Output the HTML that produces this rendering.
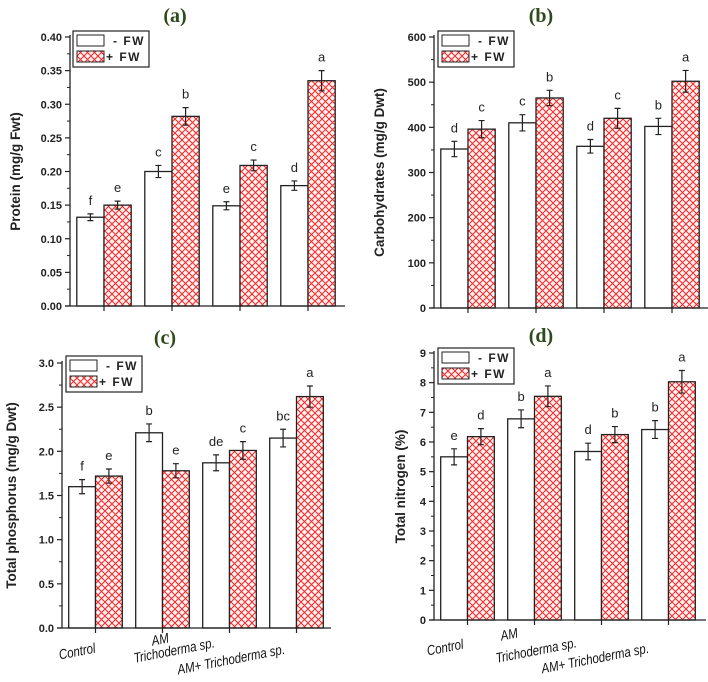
<!DOCTYPE html>
<html><head><meta charset="utf-8">
<style>
body{margin:0;background:#fff;}
svg{display:block;font-family:"Liberation Sans",Arial,sans-serif;}
.t{font-family:"Liberation Serif",serif;font-weight:bold;font-size:20px;fill:#2d4a1a;}
.tick{font-size:11px;font-weight:bold;fill:#222;}
.yl{font-size:13.5px;font-weight:bold;fill:#222;}
.let{font-size:13px;fill:#222;}
.leg{font-size:12px;font-weight:bold;fill:#222;letter-spacing:1.5px;}
.xl{font-size:14px;font-style:italic;fill:#111;}
</style></head><body>
<svg id="c" width="708" height="682" viewBox="0 0 708 682" xmlns="http://www.w3.org/2000/svg">
<defs>
<pattern id="hatch" width="7" height="7" patternUnits="userSpaceOnUse">
<rect width="7" height="7" fill="#fff4f4"/>
<path d="M0,0L7,7M7,0L0,7" stroke="#f22" stroke-width="1"/>
</pattern>
</defs>
</svg>
<script>
const categories=["Control","AM","Trichoderma sp.","AM+ Trichoderma sp."];
const protMinus=[0.132,0.200,0.149,0.179];
const protPlus=[0.150,0.282,0.209,0.335];
const protErrMinus=[0.005,0.009,0.006,0.007];
const protErrPlus=[0.006,0.013,0.008,0.015];
const protLetMinus=["f","c","e","d"];
const protLetPlus=["e","b","c","a"];
const protTicks=["0.00","0.05","0.10","0.15","0.20","0.25","0.30","0.35","0.40"];
const carbMinus=[352,410,358,402];
const carbPlus=[396,465,420,502];
const carbErrMinus=[17,18,15,18];
const carbErrPlus=[19,17,22,24];
const carbLetMinus=["d","c","d","b"];
const carbLetPlus=["c","b","c","a"];
const carbTicks=["0","100","200","300","400","500","600"];
const phosMinus=[1.60,2.21,1.87,2.15];
const phosPlus=[1.72,1.78,2.01,2.62];
const phosErrMinus=[0.08,0.10,0.09,0.10];
const phosErrPlus=[0.08,0.08,0.10,0.12];
const phosLetMinus=["f","b","de","bc"];
const phosLetPlus=["e","e","c","a"];
const phosTicks=["0.0","0.5","1.0","1.5","2.0","2.5","3.0"];
const nitMinus=[5.5,6.78,5.68,6.42];
const nitPlus=[6.18,7.54,6.25,8.03];
const nitErrMinus=[0.27,0.30,0.28,0.30];
const nitErrPlus=[0.27,0.35,0.27,0.38];
const nitLetMinus=["e","b","d","b"];
const nitLetPlus=["d","a","b","a"];
const nitTicks=["0","1","2","3","4","5","6","7","8","9"];

const svg=document.getElementById('c');
const NS="http://www.w3.org/2000/svg";
function mk(tag,attrs,parent,text){const e=document.createElementNS(NS,tag);for(const k in attrs)e.setAttribute(k,attrs[k]);if(text!==undefined)e.textContent=text;(parent||svg).appendChild(e);return e;}

function panel(p){
  const g=mk('g',{});
  
  
  const ymax=parseFloat(p.ticks[p.ticks.length-1]);
  const ys=v=>p.y0-(v/ymax)*(p.y0-p.ytop);
  const xc=i=>p.ax+p.step/2+i*p.step;
  const bw=p.step*0.4;
  const t=mk('text',{x:p.tx,y:p.ty,'text-anchor':'middle',class:'t'},g,p.title);
  
  
  for(let i=0;i<categories.length;i++){
    const c=xc(i);
    [[p.minus,p.em,p.lm,c-bw,'#fff'],[p.plus,p.ep,p.lp,c,'url(#hatch)']].forEach((s,k)=>{
      const v=s[0][i],x=s[3];
      const r=mk('rect',{x:x,y:ys(v),width:bw,height:p.y0-ys(v),fill:s[4],stroke:'#222','stroke-width':1.3},g);
      
      
      const mx=x+bw/2,e=s[1][i];
      const eb=mk('path',{d:`M${mx},${ys(v+e)}V${ys(v-e)}M${mx-3},${ys(v+e)}H${mx+3}M${mx-3},${ys(v-e)}H${mx+3}`,stroke:'#222','stroke-width':1.2,fill:'none'},g);
      
      
      const l=mk('text',{x:mx,y:ys(v+e)-9,'text-anchor':'middle',class:'let'},g,s[2][i]);
      
      
    });
  }
  const ya=mk('path',{d:`M${p.ax},${p.ytop-2}V${p.y0}`,stroke:'#222','stroke-width':1.3},g);
  
  
  const xa=mk('path',{d:`M${p.ax-5},${p.y0}H${p.xend}`,stroke:'#222','stroke-width':1.3},g);
  
  
  p.ticks.forEach((tk,j)=>{
    const v=parseFloat(tk),y=ys(v);
    mk('path',{d:`M${p.ax-5},${y}H${p.ax}`,stroke:'#222','stroke-width':1.2},g);
    const tl=mk('text',{x:p.ax-8,y:y+4,'text-anchor':'end',class:'tick'},g,tk);
    
    
    if(j<p.ticks.length-1){const ym=ys(v+ymax/(p.ticks.length-1)/2);mk('path',{d:`M${p.ax-3},${ym}H${p.ax}`,stroke:'#222','stroke-width':1},g);}
  });
  for(let i=0;i<categories.length;i++)mk('path',{d:`M${xc(i)},${p.y0}V${p.y0+5}`,stroke:'#222','stroke-width':1.2},g);
  const yl=mk('text',{x:0,y:0,'text-anchor':'middle',class:'yl',transform:`translate(${p.ylx},${(p.y0+p.ytop)/2}) rotate(-90)`},g,p.ylabel);
  
  
  const lg=mk('g',{},g);
  
  
  mk('rect',{x:p.lx,y:p.ly,width:76,height:36,fill:'#fff',stroke:'#222','stroke-width':1.2},lg);
  mk('rect',{x:p.lx+4,y:p.ly+4,width:27,height:11,fill:'#fff',stroke:'#222','stroke-width':1},lg);
  mk('rect',{x:p.lx+4,y:p.ly+20,width:27,height:11,fill:'url(#hatch)',stroke:'#222','stroke-width':1},lg);
  const e1=mk('text',{x:p.lx+40,y:p.ly+14,class:'leg'},lg,'- FW');
  
  
  const e2=mk('text',{x:p.lx+33,y:p.ly+30,class:'leg'},lg,'+ FW');
  
  
  if(p.xlab){
    p.xlab.forEach((pos,i)=>{
      const xl=mk('text',{x:0,y:0,class:'xl','text-anchor':'middle',transform:`translate(${pos[0]},${pos[1]}) rotate(-11) scale(0.82,1)`},g,categories[i]);
      
      
    });
  }
}
panel({name:'panel-a-protein',title:'(a)',tx:175,ty:22,ax:70,step:68,ytop:37,y0:306,xend:345,ticks:protTicks,minus:protMinus,plus:protPlus,em:protErrMinus,ep:protErrPlus,lm:protLetMinus,lp:protLetPlus,ylabel:'Protein (mg/g Fwt)',ylx:20,lx:73,ly:31});
panel({name:'panel-b-carbohydrates',title:'(b)',tx:541,ty:22,ax:434,step:68,ytop:37,y0:308,xend:708,ticks:carbTicks,minus:carbMinus,plus:carbPlus,em:carbErrMinus,ep:carbErrPlus,lm:carbLetMinus,lp:carbLetPlus,ylabel:'Carbohydrates (mg/g Dwt)',ylx:384,lx:438,ly:31});
panel({name:'panel-c-phosphorus',title:'(c)',tx:165,ty:344,ax:62,step:67,ytop:363,y0:628,xend:331,ticks:phosTicks,minus:phosMinus,plus:phosPlus,em:phosErrMinus,ep:phosErrPlus,lm:phosLetMinus,lp:phosLetPlus,ylabel:'Total phosphorus (mg/g Dwt)',ylx:16,lx:66,ly:356,xlab:[[78,656],[161,644],[175,655],[232,664]]});
panel({name:'panel-d-nitrogen',title:'(d)',tx:541,ty:342,ax:434,step:67,ytop:353,y0:620,xend:706,ticks:nitTicks,minus:nitMinus,plus:nitPlus,em:nitErrMinus,ep:nitErrPlus,lm:nitLetMinus,lp:nitLetPlus,ylabel:'Total nitrogen (%)',ylx:405,lx:438,ly:348,xlab:[[446,652],[510,639],[537,655],[596,663]]});
</script>
</body></html>
